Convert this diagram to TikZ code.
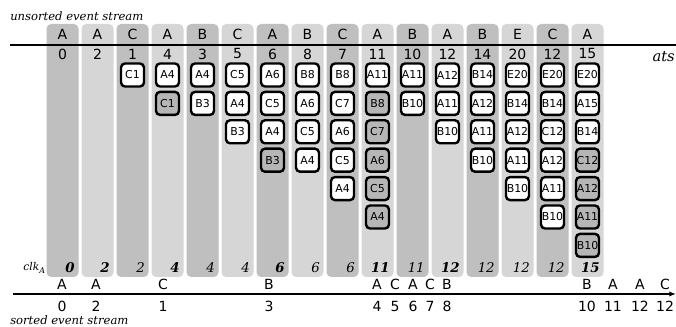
\documentclass[tikz,border=0pt]{standalone}
\usepackage{fontspec}
\setmainfont{DejaVu Serif}
\setsansfont{DejaVu Sans}
\usetikzlibrary{arrows.meta}
\definecolor{colD}{RGB}{191,191,191}
\definecolor{colL}{RGB}{214,214,214}
\definecolor{boxw}{RGB}{255,255,255}
\definecolor{boxg}{RGB}{182,182,182}
\newcommand\clkB{\bfseries\itshape}
\newcommand\clkI{\itshape}
\tikzset{
  column/.style={rounded corners=3.5pt, inner sep=0pt, minimum width=24pt, minimum height=189.75pt},
  lbl/.style={font=\sffamily\fontsize{10.5}{12}\selectfont, inner sep=0pt},
  evbox/.style={draw=black, line width=1.8pt, rounded corners=3pt, inner sep=0pt,
     minimum width=17.25pt, minimum height=17.25pt, font=\sffamily\fontsize{8.2}{9}\selectfont},
  clknum/.style={inner sep=0pt, anchor=base east, font=\fontsize{10}{12}\selectfont},
  caption/.style={font=\itshape\fontsize{8.7}{10}\selectfont, inner sep=0pt, anchor=west},
  axis/.style={line width=1.6pt}
}
\begin{document}
\begin{tikzpicture}[x=0.75pt,y=-0.75pt]
\useasboundingbox (0,0) rectangle (676,327);
% columns with labels
\foreach \i/\lab/\nm/\ck/\cf/\shd in {
  1/A/0/0/\clkB/colD, 2/A/2/2/\clkB/colL, 3/C/1/2/\clkI/colD, 4/A/4/4/\clkB/colL,
  5/B/3/4/\clkI/colD, 6/C/5/4/\clkI/colL, 7/A/6/6/\clkB/colD, 8/B/8/6/\clkI/colL,
  9/C/7/6/\clkI/colD, 10/A/11/11/\clkB/colL, 11/B/10/11/\clkI/colD, 12/A/12/12/\clkB/colL,
  13/B/14/12/\clkI/colD, 14/E/20/12/\clkI/colL, 15/C/12/12/\clkI/colD, 16/A/15/15/\clkB/colL} {
  \node[column, fill=\shd] (c\i) at ({62.5+35*(\i-1)},150.5) {};
  \node[lbl] (l\i) at ({62.5+35*(\i-1)},34) {\lab};
  \node[lbl] (n\i) at ({62.5+35*(\i-1)},54) {\nm};
  \node[clknum, font=\cf\fontsize{10}{12}\selectfont] (k\i) at ({62.5+35*(\i-1)+12.5},273) {\ck};
}
% event boxes
\foreach \i/\lst in {
  3/{C1/w},
  4/{A4/w,C1/g},
  5/{A4/w,B3/w},
  6/{C5/w,A4/w,B3/w},
  7/{A6/w,C5/w,A4/w,B3/g},
  8/{B8/w,A6/w,C5/w,A4/w},
  9/{B8/w,C7/w,A6/w,C5/w,A4/w},
  10/{A11/w,B8/g,C7/g,A6/g,C5/g,A4/g},
  11/{A11/w,B10/w},
  12/{A12/w,A11/w,B10/w},
  13/{B14/w,A12/w,A11/w,B10/w},
  14/{E20/w,B14/w,A12/w,A11/w,B10/w},
  15/{E20/w,B14/w,C12/w,A12/w,A11/w,B10/w},
  16/{E20/w,A15/w,B14/w,C12/g,A12/g,A11/g,B10/g}} {
  \foreach \t/\f [count=\j] in \lst {
    \node[evbox, fill=box\f] (b\i-\j) at ({62.5+35*(\i-1)},{75+28.4*(\j-1)}) {\t};
  }
}
% top axis
\coordinate (ta) at (10,45);
\coordinate (tb) at (676,45);
\draw[axis] (ta) -- (tb);
\node[caption] (uc) at (10,16) {unsorted event stream};
\node[font=\itshape\fontsize{11}{13}\selectfont, inner sep=0pt, anchor=east] (ats) at (675,57) {ats};
% clk label
\node[inner sep=0pt, anchor=base east, font=\itshape\fontsize{8}{10}\selectfont] (clk) at (46,271) {clk\textsubscript{A}};
% bottom axis
\coordinate (ba) at (13,294);
\coordinate (bb) at (676,294);
\draw[axis, -{Latex[length=5pt,width=4pt]}] (ba) -- (bb);
\foreach \x/\lab/\nm [count=\k] in {62/A/0, 96/A/2, 163/C/1, 269/B/3, 377/A/4, 395/C/5, 413/A/6, 430/C/7, 447/B/8, 587/B/10, 613/A/11, 640/A/12, 665/C/12} {
  \node[lbl] (s\k) at (\x,284) {\lab};
  \node[lbl] (t\k) at (\x,306) {\nm};
}
\node[caption] (sc) at (10,320) {sorted event stream};
\end{tikzpicture}
\end{document}
